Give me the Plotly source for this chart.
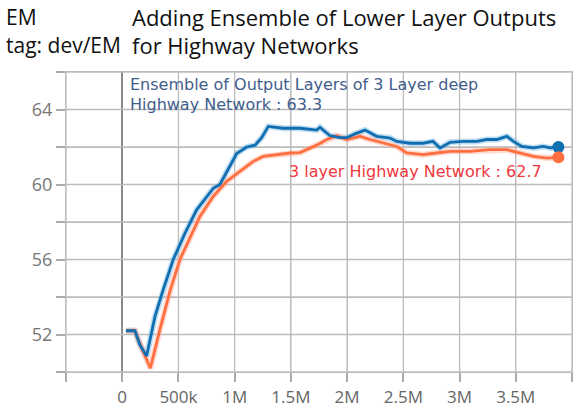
import plotly.graph_objects as go

# ---- data (x in millions of steps, y = EM) ----
ens_steps = [0.033, 0.113, 0.157, 0.217, 0.291, 0.365, 0.454, 0.558, 0.662, 0.810, 0.869,
             0.943, 1.018, 1.107, 1.181, 1.240, 1.299, 1.432, 1.581, 1.730, 1.759, 1.848,
             1.937, 2.000, 2.070, 2.159, 2.263, 2.382, 2.441, 2.560, 2.675, 2.764, 2.827,
             2.916, 3.031, 3.153, 3.242, 3.331, 3.420, 3.479, 3.553, 3.657, 3.746, 3.805, 3.879]
ens_em = [52.2, 52.2, 51.45, 50.85, 52.95, 54.4, 56.0, 57.4, 58.65, 59.8, 60.0,
          60.85, 61.65, 62.0, 62.1, 62.5, 63.1, 63.0, 63.0, 62.9, 63.05, 62.6,
          62.5, 62.5, 62.7, 62.9, 62.57, 62.48, 62.3, 62.2, 62.2, 62.3, 61.95,
          62.25, 62.3, 62.3, 62.4, 62.4, 62.57, 62.3, 62.03, 61.95, 62.03, 61.95, 62.0]

hw_steps = [0.033, 0.113, 0.142, 0.250, 0.335, 0.424, 0.513, 0.602, 0.691, 0.810, 0.929,
            1.047, 1.165, 1.254, 1.374, 1.492, 1.581, 1.641, 1.730, 1.819, 1.908, 1.997,
            2.115, 2.204, 2.320, 2.441, 2.530, 2.678, 2.797, 2.916, 3.093, 3.271, 3.420,
            3.538, 3.657, 3.776, 3.879]
hw_em = [52.2, 52.2, 51.72, 50.2, 52.26, 54.3, 56.0, 57.15, 58.3, 59.37, 60.17,
         60.7, 61.23, 61.5, 61.59, 61.68, 61.7, 61.86, 62.1, 62.4, 62.6, 62.4,
         62.57, 62.4, 62.2, 62.03, 61.68, 61.59, 61.68, 61.77, 61.77, 61.86, 61.86,
         61.68, 61.5, 61.41, 61.45]

x_tickvals = [-500000, 0, 500000, 1000000, 1500000, 2000000, 2500000, 3000000, 3500000, 4000000]
x_ticktext = ["", "0", "500k", "1M", "1.5M", "2M", "2.5M", "3M", "3.5M", ""]
y_tickvals = [50, 52, 54, 56, 58, 60, 62, 64, 66]
y_ticktext = ["", "52", "", "56", "", "60", "", "64", ""]

ens_label = ["Ensemble of Output Layers of 3 Layer deep", "Highway Network : 63.3"]
hw_label = "3 layer Highway Network : 62.7"
title_left = ["EM", "tag: dev/EM"]
title_right = ["Adding Ensemble of Lower Layer Outputs", "for Highway Networks"]

BLUE = "#0f6fb0"
ORANGE = "#ff6f3f"
GRID = "#bdbdbd"

W, H = 574, 412
ML, MR, MT, MB = 66, 2, 72, 40
PW, PH = W - ML - MR, H - MT - MB

X_RANGE = [x_tickvals[0], x_tickvals[-1]]
Y_RANGE = [y_tickvals[0], y_tickvals[-1]]

ens_x = [s * 1e6 for s in ens_steps]
hw_x = [s * 1e6 for s in hw_steps]

fig = go.Figure()

# grid lines as line traces at the tick positions
gx, gy = [], []
for v in x_tickvals:
    if v != 0:
        gx += [v, v, None]
        gy += [Y_RANGE[0], Y_RANGE[1], None]
for v in y_tickvals:
    gx += [X_RANGE[0], X_RANGE[1], None]
    gy += [v, v, None]
fig.add_trace(go.Scatter(x=gx, y=gy, mode="lines", line=dict(color=GRID, width=1.3),
                         hoverinfo="skip", connectgaps=False))

# faint raw-looking shadows
fig.add_trace(go.Scatter(x=ens_x, y=ens_em, mode="lines",
                         line=dict(color="rgba(120,180,225,0.45)", width=6), hoverinfo="skip"))
fig.add_trace(go.Scatter(x=hw_x, y=hw_em, mode="lines",
                         line=dict(color="rgba(255,170,150,0.45)", width=6), hoverinfo="skip"))
# main smoothed lines
fig.add_trace(go.Scatter(x=hw_x, y=hw_em, mode="lines",
                         line=dict(color=ORANGE, width=2.8)))
fig.add_trace(go.Scatter(x=ens_x, y=ens_em, mode="lines",
                         line=dict(color=BLUE, width=2.8)))
# end dots
fig.add_trace(go.Scatter(x=[ens_x[-1]], y=[ens_em[-1]], mode="markers", cliponaxis=False,
                         marker=dict(color=BLUE, size=12)))
fig.add_trace(go.Scatter(x=[hw_x[-1]], y=[hw_em[-1]], mode="markers", cliponaxis=False,
                         marker=dict(color=ORANGE, size=12)))

fig.update_layout(
    template="none",
    width=W, height=H,
    margin=dict(l=ML, r=MR, t=MT, b=MB, autoexpand=False),
    paper_bgcolor="white", plot_bgcolor="white",
    showlegend=False,
    font=dict(family="Open Sans", size=18, color="#777"),
)

for i, t in enumerate(ens_label):
    fig.add_annotation(x=52000, y=65.31 - 1.02 * i, xref="x", yref="y", text=t,
                       showarrow=False, xanchor="left", yanchor="middle",
                       font=dict(family="DejaVu Sans", size=16, color="#3f5d8c"))
fig.add_annotation(x=1466000, y=60.67, xref="x", yref="y", text=hw_label, showarrow=False,
                   xanchor="left", yanchor="middle",
                   font=dict(family="DejaVu Sans", size=16, color="#f0383c"))


def px_x(p):
    return (p - ML) / PW


def px_y(p):
    return (H - MB - p) / PH


for i, t in enumerate(title_left):
    fig.add_annotation(x=px_x(4), y=px_y(17 + 28 * i), xref="paper", yref="paper", text=t,
                       showarrow=False, xanchor="left", yanchor="middle",
                       font=dict(family="Open Sans", size=21, color="#111"))
for i, t in enumerate(title_right):
    fig.add_annotation(x=px_x(130), y=px_y(17 + 28 * i), xref="paper", yref="paper", text=t,
                       showarrow=False, xanchor="left", yanchor="middle",
                       font=dict(family="Open Sans", size=22, color="#111"))

fig.update_xaxes(range=X_RANGE, tickmode="array", tickvals=x_tickvals,
                 ticktext=x_ticktext, automargin=False,
                 showgrid=True, gridcolor=GRID, gridwidth=1,
                 zeroline=True, zerolinecolor="#8a8a8a", zerolinewidth=2,
                 ticks="outside", ticklen=9, tickcolor="#aaaaaa", tickwidth=1.5,
                 showline=True, linecolor=GRID, linewidth=1.2, mirror=True,
                 tickfont=dict(family="Open Sans", size=17, color="#666"))
fig.update_yaxes(range=Y_RANGE, tickmode="array", tickvals=y_tickvals,
                 ticktext=y_ticktext, automargin=False,
                 showgrid=True, gridcolor=GRID, gridwidth=1, zeroline=False,
                 ticks="outside", ticklen=9, tickcolor="#aaaaaa", tickwidth=1.5,
                 showline=True, linecolor=GRID, linewidth=1.2, mirror=True,
                 tickfont=dict(family="Open Sans", size=18, color="#777"))

fig.write_html("out.html", config={"displayModeBar": False},
               post_script="document.body.style.margin='0px';")
